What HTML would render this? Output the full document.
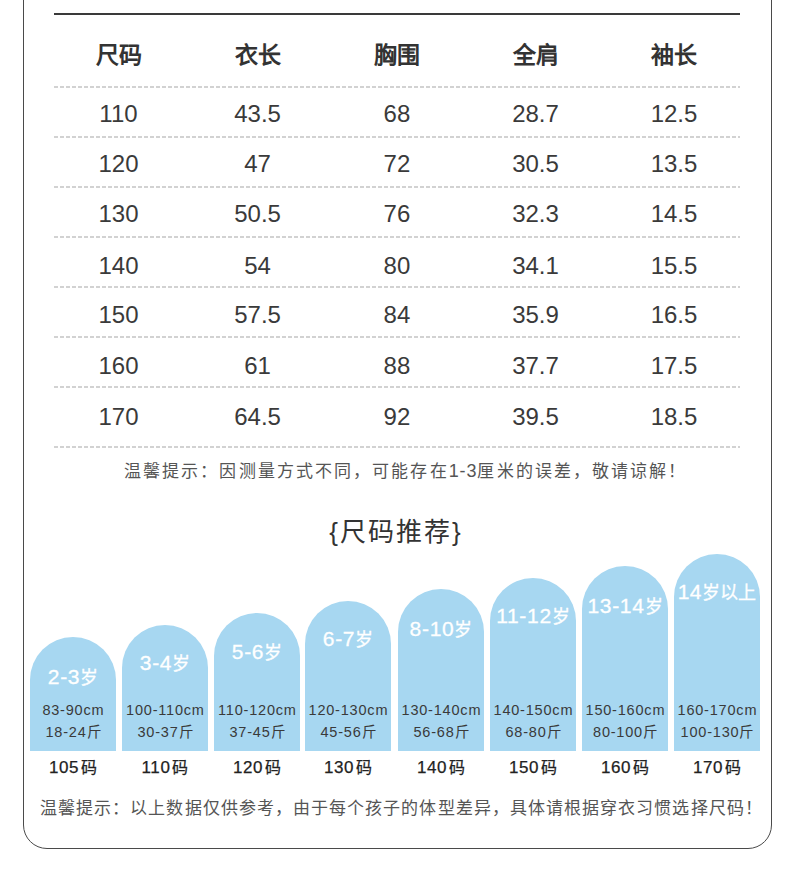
<!DOCTYPE html>
<html lang="zh-CN"><head><meta charset="utf-8">
<style>
html,body{margin:0;padding:0;background:#fff;}
body{width:790px;height:889px;position:relative;overflow:hidden;font-family:"Liberation Sans",sans-serif;color:#333;}
.box{position:absolute;left:23px;top:-60px;width:747px;height:907px;border:1px solid #4a4a4a;border-radius:0 0 24px 24px;}
.hl{position:absolute;left:54px;top:13px;width:686px;height:2px;background:#3a3a3a;}
.dl{position:absolute;left:54px;width:686px;height:2px;background-image:linear-gradient(to right,#d2d2d2 0,#d2d2d2 4px,transparent 4px,transparent 6px);background-size:6px 2px;}
.c{position:absolute;width:140px;margin-left:-70px;text-align:center;white-space:nowrap;}
.hd{font-size:23px;font-weight:700;line-height:30px;color:#333;}
.nm{font-size:24px;line-height:30px;color:#3a3a3a;}
.tip{position:absolute;white-space:nowrap;font-size:17px;line-height:24px;color:#555;}
.title{position:absolute;left:0;width:790px;text-align:center;font-size:26px;line-height:36px;color:#333;letter-spacing:2px;text-indent:2px;}
.arch{position:absolute;width:86px;background:#a7d7f1;border-radius:43px 43px 0 0;}
.age{position:absolute;left:-20px;right:-20px;text-align:center;color:#fff;font-size:18px;line-height:24px;white-space:nowrap;letter-spacing:0.7px;text-indent:0.7px;-webkit-text-stroke:0.3px #fff;}
.age b{font-weight:400;font-size:21px;}
.inf{position:absolute;left:-20px;right:-20px;text-align:center;color:#3a3a3a;font-size:14.5px;line-height:20px;white-space:nowrap;letter-spacing:0.8px;text-indent:0.8px;}
.lab{position:absolute;left:-10px;width:106px;text-align:center;font-size:16px;font-weight:500;line-height:22px;color:#222;-webkit-text-stroke:0.25px #222;letter-spacing:0.6px;text-indent:0.6px;}
.lab b{font-weight:400;font-size:17px;margin-right:2px;}
</style></head><body>
<div class="box"></div>
<div class="hl"></div>

<div class="dl" style="top:86px"></div>
<div class="dl" style="top:136px"></div>
<div class="dl" style="top:186px"></div>
<div class="dl" style="top:236px"></div>
<div class="dl" style="top:286px"></div>
<div class="dl" style="top:336px"></div>
<div class="dl" style="top:386px"></div>
<div class="dl" style="top:446px"></div>
<div class="c hd" style="left:118.5px;top:39.6px">尺码</div>
<div class="c hd" style="left:257.6px;top:39.6px">衣长</div>
<div class="c hd" style="left:396.9px;top:39.6px">胸围</div>
<div class="c hd" style="left:535.5px;top:39.6px">全肩</div>
<div class="c hd" style="left:674px;top:39.6px">袖长</div>
<div class="c nm" style="left:118.5px;top:98.7px">110</div>
<div class="c nm" style="left:257.6px;top:98.7px">43.5</div>
<div class="c nm" style="left:396.9px;top:98.7px">68</div>
<div class="c nm" style="left:535.5px;top:98.7px">28.7</div>
<div class="c nm" style="left:674px;top:98.7px">12.5</div>
<div class="c nm" style="left:118.5px;top:149.0px">120</div>
<div class="c nm" style="left:257.6px;top:149.0px">47</div>
<div class="c nm" style="left:396.9px;top:149.0px">72</div>
<div class="c nm" style="left:535.5px;top:149.0px">30.5</div>
<div class="c nm" style="left:674px;top:149.0px">13.5</div>
<div class="c nm" style="left:118.5px;top:199.0px">130</div>
<div class="c nm" style="left:257.6px;top:199.0px">50.5</div>
<div class="c nm" style="left:396.9px;top:199.0px">76</div>
<div class="c nm" style="left:535.5px;top:199.0px">32.3</div>
<div class="c nm" style="left:674px;top:199.0px">14.5</div>
<div class="c nm" style="left:118.5px;top:250.5px">140</div>
<div class="c nm" style="left:257.6px;top:250.5px">54</div>
<div class="c nm" style="left:396.9px;top:250.5px">80</div>
<div class="c nm" style="left:535.5px;top:250.5px">34.1</div>
<div class="c nm" style="left:674px;top:250.5px">15.5</div>
<div class="c nm" style="left:118.5px;top:300.0px">150</div>
<div class="c nm" style="left:257.6px;top:300.0px">57.5</div>
<div class="c nm" style="left:396.9px;top:300.0px">84</div>
<div class="c nm" style="left:535.5px;top:300.0px">35.9</div>
<div class="c nm" style="left:674px;top:300.0px">16.5</div>
<div class="c nm" style="left:118.5px;top:351.0px">160</div>
<div class="c nm" style="left:257.6px;top:351.0px">61</div>
<div class="c nm" style="left:396.9px;top:351.0px">88</div>
<div class="c nm" style="left:535.5px;top:351.0px">37.7</div>
<div class="c nm" style="left:674px;top:351.0px">17.5</div>
<div class="c nm" style="left:118.5px;top:402.0px">170</div>
<div class="c nm" style="left:257.6px;top:402.0px">64.5</div>
<div class="c nm" style="left:396.9px;top:402.0px">92</div>
<div class="c nm" style="left:535.5px;top:402.0px">39.5</div>
<div class="c nm" style="left:674px;top:402.0px">18.5</div>
<div class="tip" style="left:124px;top:459px;letter-spacing:2.1px;font-size:17px">温馨提示：因测量方式不同，可能存在<span style="font-size:18px;letter-spacing:0.9px">1-3</span>厘米的误差，敬请谅解！</div>
<div class="title" style="top:514px">{尺码推荐}</div>
<div class="arch" style="left:30px;top:637px;height:114px"><div class="age" style="top:28.4px"><b>2-3</b>岁</div><div class="inf" style="top:63px">83-90cm</div><div class="inf" style="top:85px">18-24斤</div></div>
<div class="lab" style="margin-left:30px;top:757px"><b>105</b>码</div>
<div class="arch" style="left:122px;top:625px;height:126px"><div class="age" style="top:26.0px"><b>3-4</b>岁</div><div class="inf" style="top:75px">100-110cm</div><div class="inf" style="top:97px">30-37斤</div></div>
<div class="lab" style="margin-left:122px;top:757px"><b>110</b>码</div>
<div class="arch" style="left:214px;top:613px;height:138px"><div class="age" style="top:26.5px"><b>5-6</b>岁</div><div class="inf" style="top:87px">110-120cm</div><div class="inf" style="top:109px">37-45斤</div></div>
<div class="lab" style="margin-left:214px;top:757px"><b>120</b>码</div>
<div class="arch" style="left:305px;top:601px;height:150px"><div class="age" style="top:25.7px"><b>6-7</b>岁</div><div class="inf" style="top:99px">120-130cm</div><div class="inf" style="top:121px">45-56斤</div></div>
<div class="lab" style="margin-left:305px;top:757px"><b>130</b>码</div>
<div class="arch" style="left:398px;top:589px;height:162px"><div class="age" style="top:27.5px"><b>8-10</b>岁</div><div class="inf" style="top:111px">130-140cm</div><div class="inf" style="top:133px">56-68斤</div></div>
<div class="lab" style="margin-left:398px;top:757px"><b>140</b>码</div>
<div class="arch" style="left:490px;top:578px;height:173px"><div class="age" style="top:26.0px"><b>11-12</b>岁</div><div class="inf" style="top:122px">140-150cm</div><div class="inf" style="top:144px">68-80斤</div></div>
<div class="lab" style="margin-left:490px;top:757px"><b>150</b>码</div>
<div class="arch" style="left:582px;top:566px;height:185px"><div class="age" style="top:28.1px"><b>13-14</b>岁</div><div class="inf" style="top:134px">150-160cm</div><div class="inf" style="top:156px">80-100斤</div></div>
<div class="lab" style="margin-left:582px;top:757px"><b>160</b>码</div>
<div class="arch" style="left:674px;top:554px;height:197px"><div class="age" style="top:25.8px;letter-spacing:0.3px;text-indent:0.3px"><b>14</b>岁以上</div><div class="inf" style="top:146px">160-170cm</div><div class="inf" style="top:168px">100-130斤</div></div>
<div class="lab" style="margin-left:674px;top:757px"><b>170</b>码</div>
<div class="tip" style="left:40px;top:797px;font-size:17px;letter-spacing:1.07px">温馨提示：以上数据仅供参考，由于每个孩子的体型差异，具体请根据穿衣习惯选择尺码！</div>
</body></html>
